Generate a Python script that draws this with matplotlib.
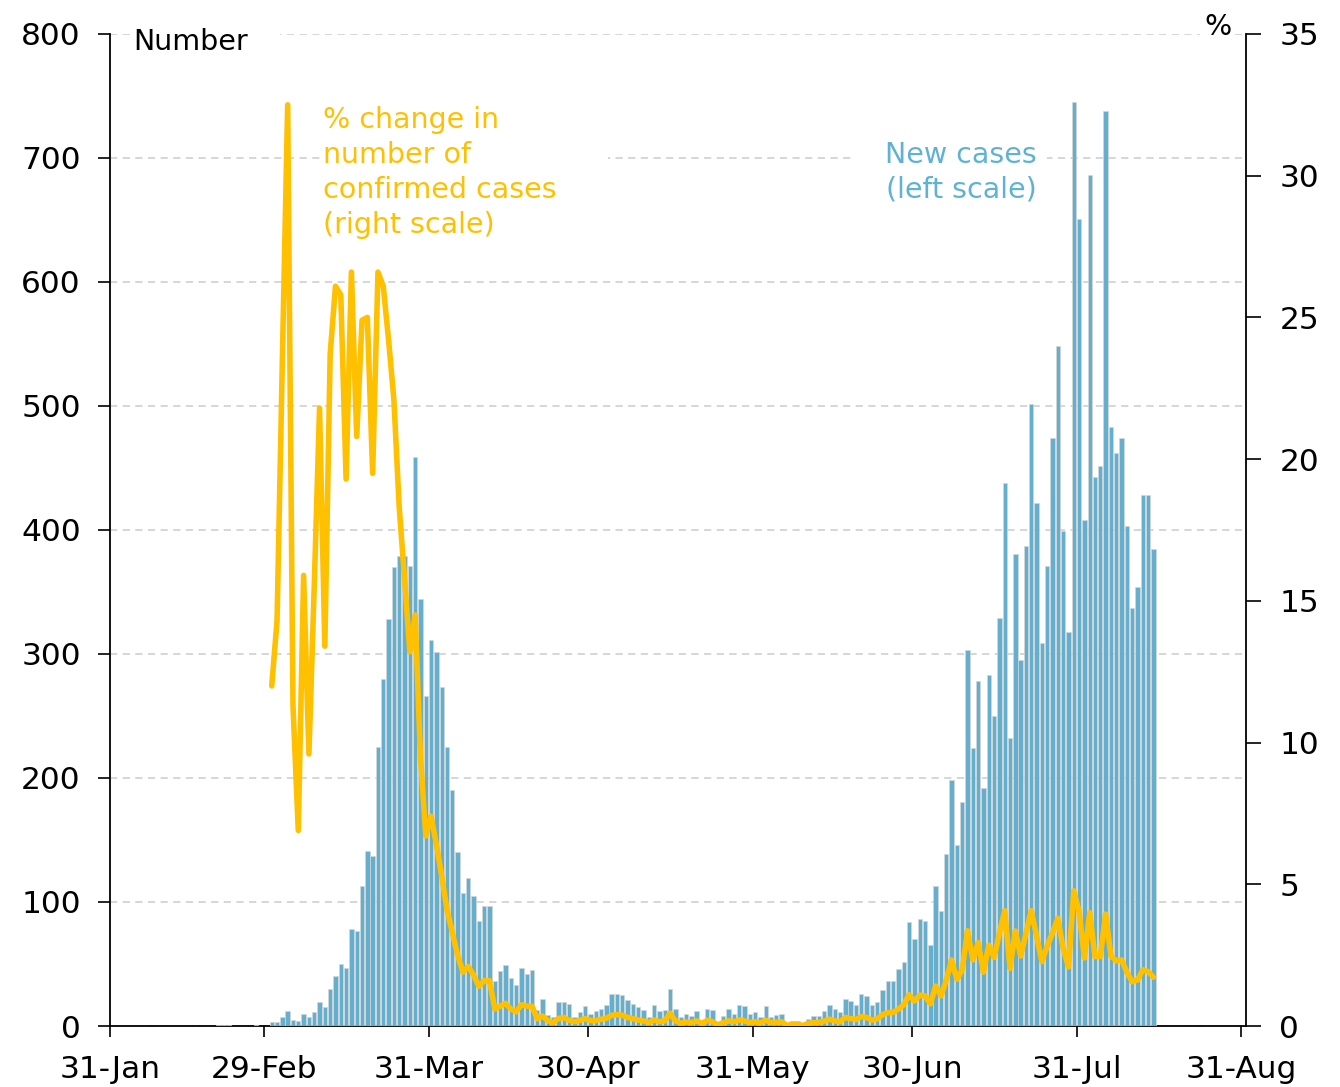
import numpy as np
import pandas as pd
import matplotlib
matplotlib.use("Agg")
import matplotlib.pyplot as plt
import matplotlib.dates as mdates
from matplotlib.patches import Rectangle

# ---------------- data ----------------
cases_start = "2020-02-20"
cases_feb = [1, 1, 1, 0, 0, 0, 0, 1, 0, 0]
cases_mar = [3, 3, 7, 12, 5, 4, 10, 7, 11, 19, 15, 30, 40, 50, 47, 78, 77, 113, 141, 137,
             225, 280, 328, 370, 379, 379, 371, 459, 344, 266, 311]
cases_apr = [302, 273, 225, 190, 140, 107, 119, 105, 85, 97, 97, 36, 44, 49, 39, 33, 47, 42, 45, 13,
             22, 9, 7, 19, 19, 18, 7, 11, 16, 10]
cases_may = [12, 14, 17, 26, 26, 25, 21, 18, 15, 13, 7, 17, 12, 13, 30, 14, 7, 10, 8, 12,
             4, 14, 13, 3, 8, 14, 10, 17, 16, 10, 11]
cases_jun = [7, 16, 7, 9, 10, 2, 4, 4, 1, 6, 8, 8, 12, 17, 14, 11, 22, 20, 17, 26,
             24, 17, 19, 29, 36, 36, 46, 52, 84, 70]
cases_jul = [86, 85, 65, 113, 93, 139, 198, 146, 181, 303, 224, 278, 192, 283, 250, 329, 438, 232, 381, 295,
             387, 502, 422, 309, 371, 474, 548, 399, 318, 745, 651]
cases_aug = [408, 686, 443, 452, 738, 483, 462, 474, 403, 337, 354, 428, 428, 385]

pct_start = "2020-03-01"
pct_mar = [12.0, 14.3, 23.5, 32.5, 11.3, 6.9, 15.9, 9.6, 15.5, 21.8, 13.4, 23.7, 26.1, 25.8, 19.3, 26.6,
           20.8, 24.9, 25.0, 19.5, 26.6, 26.1, 24.2, 22.1, 18.3, 15.8, 13.2, 14.5, 9.5, 6.7, 7.4]
pct_apr = [6.4, 5.3, 4.1, 3.3, 2.5, 1.9, 2.1, 1.8, 1.4, 1.6, 1.6, 0.6, 0.7, 0.8, 0.6, 0.5, 0.75, 0.7, 0.7,
           0.25, 0.35, 0.18, 0.12, 0.27, 0.3, 0.2, 0.15, 0.2, 0.26, 0.19]
pct_may = [0.19, 0.24, 0.27, 0.38, 0.4, 0.38, 0.3, 0.26, 0.21, 0.18, 0.12, 0.21, 0.15, 0.18, 0.45, 0.18,
           0.1, 0.14, 0.12, 0.18, 0.09, 0.2, 0.15, 0.04, 0.12, 0.18, 0.15, 0.21, 0.18, 0.12, 0.15]
pct_jun = [0.1, 0.21, 0.12, 0.13, 0.15, 0.02, 0.06, 0.06, 0.02, 0.09, 0.12, 0.12, 0.17, 0.24, 0.18, 0.15,
           0.3, 0.26, 0.23, 0.33, 0.3, 0.21, 0.25, 0.4, 0.47, 0.48, 0.6, 0.75, 1.1, 0.88]
pct_jul = [1.09, 1.06, 0.78, 1.41, 1.06, 1.62, 2.33, 1.65, 1.98, 3.36, 2.33, 2.94, 1.9, 2.85, 2.42, 3.27,
           4.07, 2.03, 3.35, 2.47, 3.27, 4.07, 3.18, 2.27, 2.82, 3.29, 3.8, 2.75, 2.08, 4.77, 4.03]
pct_aug = [2.4, 4.0, 2.45, 2.45, 3.95, 2.47, 2.3, 2.33, 1.9, 1.56, 1.62, 1.98, 1.92, 1.72]

tick_dates = ["2020-01-31", "2020-02-29", "2020-03-31", "2020-04-30",
              "2020-05-31", "2020-06-30", "2020-07-31", "2020-08-31"]
tick_labels = ["31-Jan", "29-Feb", "31-Mar", "30-Apr", "31-May", "30-Jun", "31-Jul", "31-Aug"]
left_ticks = [0, 100, 200, 300, 400, 500, 600, 700, 800]
right_ticks = [0, 5, 10, 15, 20, 25, 30, 35]

new_cases = cases_feb + cases_mar + cases_apr + cases_may + cases_jun + cases_jul + cases_aug
pct_change = pct_mar + pct_apr + pct_may + pct_jun + pct_jul + pct_aug

# ---------------- style ----------------
BLUE = "#63AFCD"
BLUE_TXT = "#5FB2D4"
GOLD = "#FFC000"
FS = 22.5
TFS = 20.5
plt.rcParams["font.family"] = ["DejaVu Sans"]

W, H = 1340, 1087
fig = plt.figure(figsize=(W / 100, H / 100), dpi=100)
L_px, R_px, T_px, B_px = 110, 1246, 34, 1026
ax = fig.add_axes([L_px / W, 1 - B_px / H, (R_px - L_px) / W, (B_px - T_px) / H])
ax2 = ax.twinx()

def fx(px):
    return (px - L_px) / (R_px - L_px)

def fy(py):
    return (B_px - py) / (B_px - T_px)

bar_dates = mdates.date2num(pd.date_range(cases_start, periods=len(new_cases), freq="D")) + 0.45
pct_dates = mdates.date2num(pd.date_range(pct_start, periods=len(pct_change), freq="D")) + 0.45

ax.bar(bar_dates, new_cases, width=0.82, color=BLUE, edgecolor="#d6d6d6", linewidth=0.5, zorder=3)
ax2.plot(pct_dates, pct_change, color=GOLD, lw=4.0, solid_joinstyle="round",
         solid_capstyle="round", zorder=5)

x0 = mdates.date2num(pd.Timestamp(tick_dates[0]))
x1 = mdates.date2num(pd.Timestamp(tick_dates[-1])) + 0.88
ax.set_xlim(x0, x1)
ax.set_ylim(0, 800)
ax2.set_ylim(0, 35)

ax.set_xticks(mdates.date2num(pd.to_datetime(tick_dates)))
ax.set_xticklabels(tick_labels)
ax.set_yticks(left_ticks)
ax2.set_yticks(right_ticks)

ax.set_axisbelow(True)
ax.yaxis.grid(True, color="#d3d3d3", lw=1.3, linestyle=(0, (4, 3)), zorder=0)
ax.xaxis.grid(False)

for s in ["top", "right"]:
    ax.spines[s].set_visible(False)
for s in ["top", "left", "bottom"]:
    ax2.spines[s].set_visible(False)
for sp in [ax.spines["left"], ax.spines["bottom"], ax2.spines["right"]]:
    sp.set_linewidth(1.3)
    sp.set_color("black")

ax.tick_params(axis="x", direction="out", length=8, width=1.2, labelsize=FS, pad=13)
ax.tick_params(axis="y", direction="out", length=9, width=1.2, labelsize=FS, pad=12)
ax2.tick_params(axis="y", direction="out", length=11, width=1.2, labelsize=FS, pad=13)

# white masks behind labels (hide gridlines)
for (xa, ya, xb, yb) in [(130, 18, 280, 60), (1200, 8, 1234, 52),
                         (320, 95, 608, 245), (852, 130, 1047, 210)]:
    ax.add_patch(Rectangle((fx(xa), fy(yb)), fx(xb) - fx(xa), fy(ya) - fy(yb),
                           transform=ax.transAxes, facecolor="white", edgecolor="none", zorder=1))

ax.text(fx(133), fy(50), "Number", transform=ax.transAxes, fontsize=TFS, ha="left",
        va="baseline", zorder=4)
ax2.text(fx(1204), fy(35), "%", transform=ax2.transAxes, fontsize=TFS, ha="left",
         va="baseline", zorder=4)

gold_lines = ["% change in", "number of", "confirmed cases", "(right scale)"]
for i, t in enumerate(gold_lines):
    ax.text(fx(323), fy(128 + 35 * i), t, transform=ax.transAxes, fontsize=TFS,
            color=GOLD, ha="left", va="baseline", zorder=4)

blue_lines = ["New cases", "(left scale)"]
for i, t in enumerate(blue_lines):
    ax.text(fx(961), fy(163 + 35 * i), t, transform=ax.transAxes, fontsize=TFS,
            color=BLUE_TXT, ha="center", va="baseline", zorder=4)

fig.savefig("out.png", dpi=100)
